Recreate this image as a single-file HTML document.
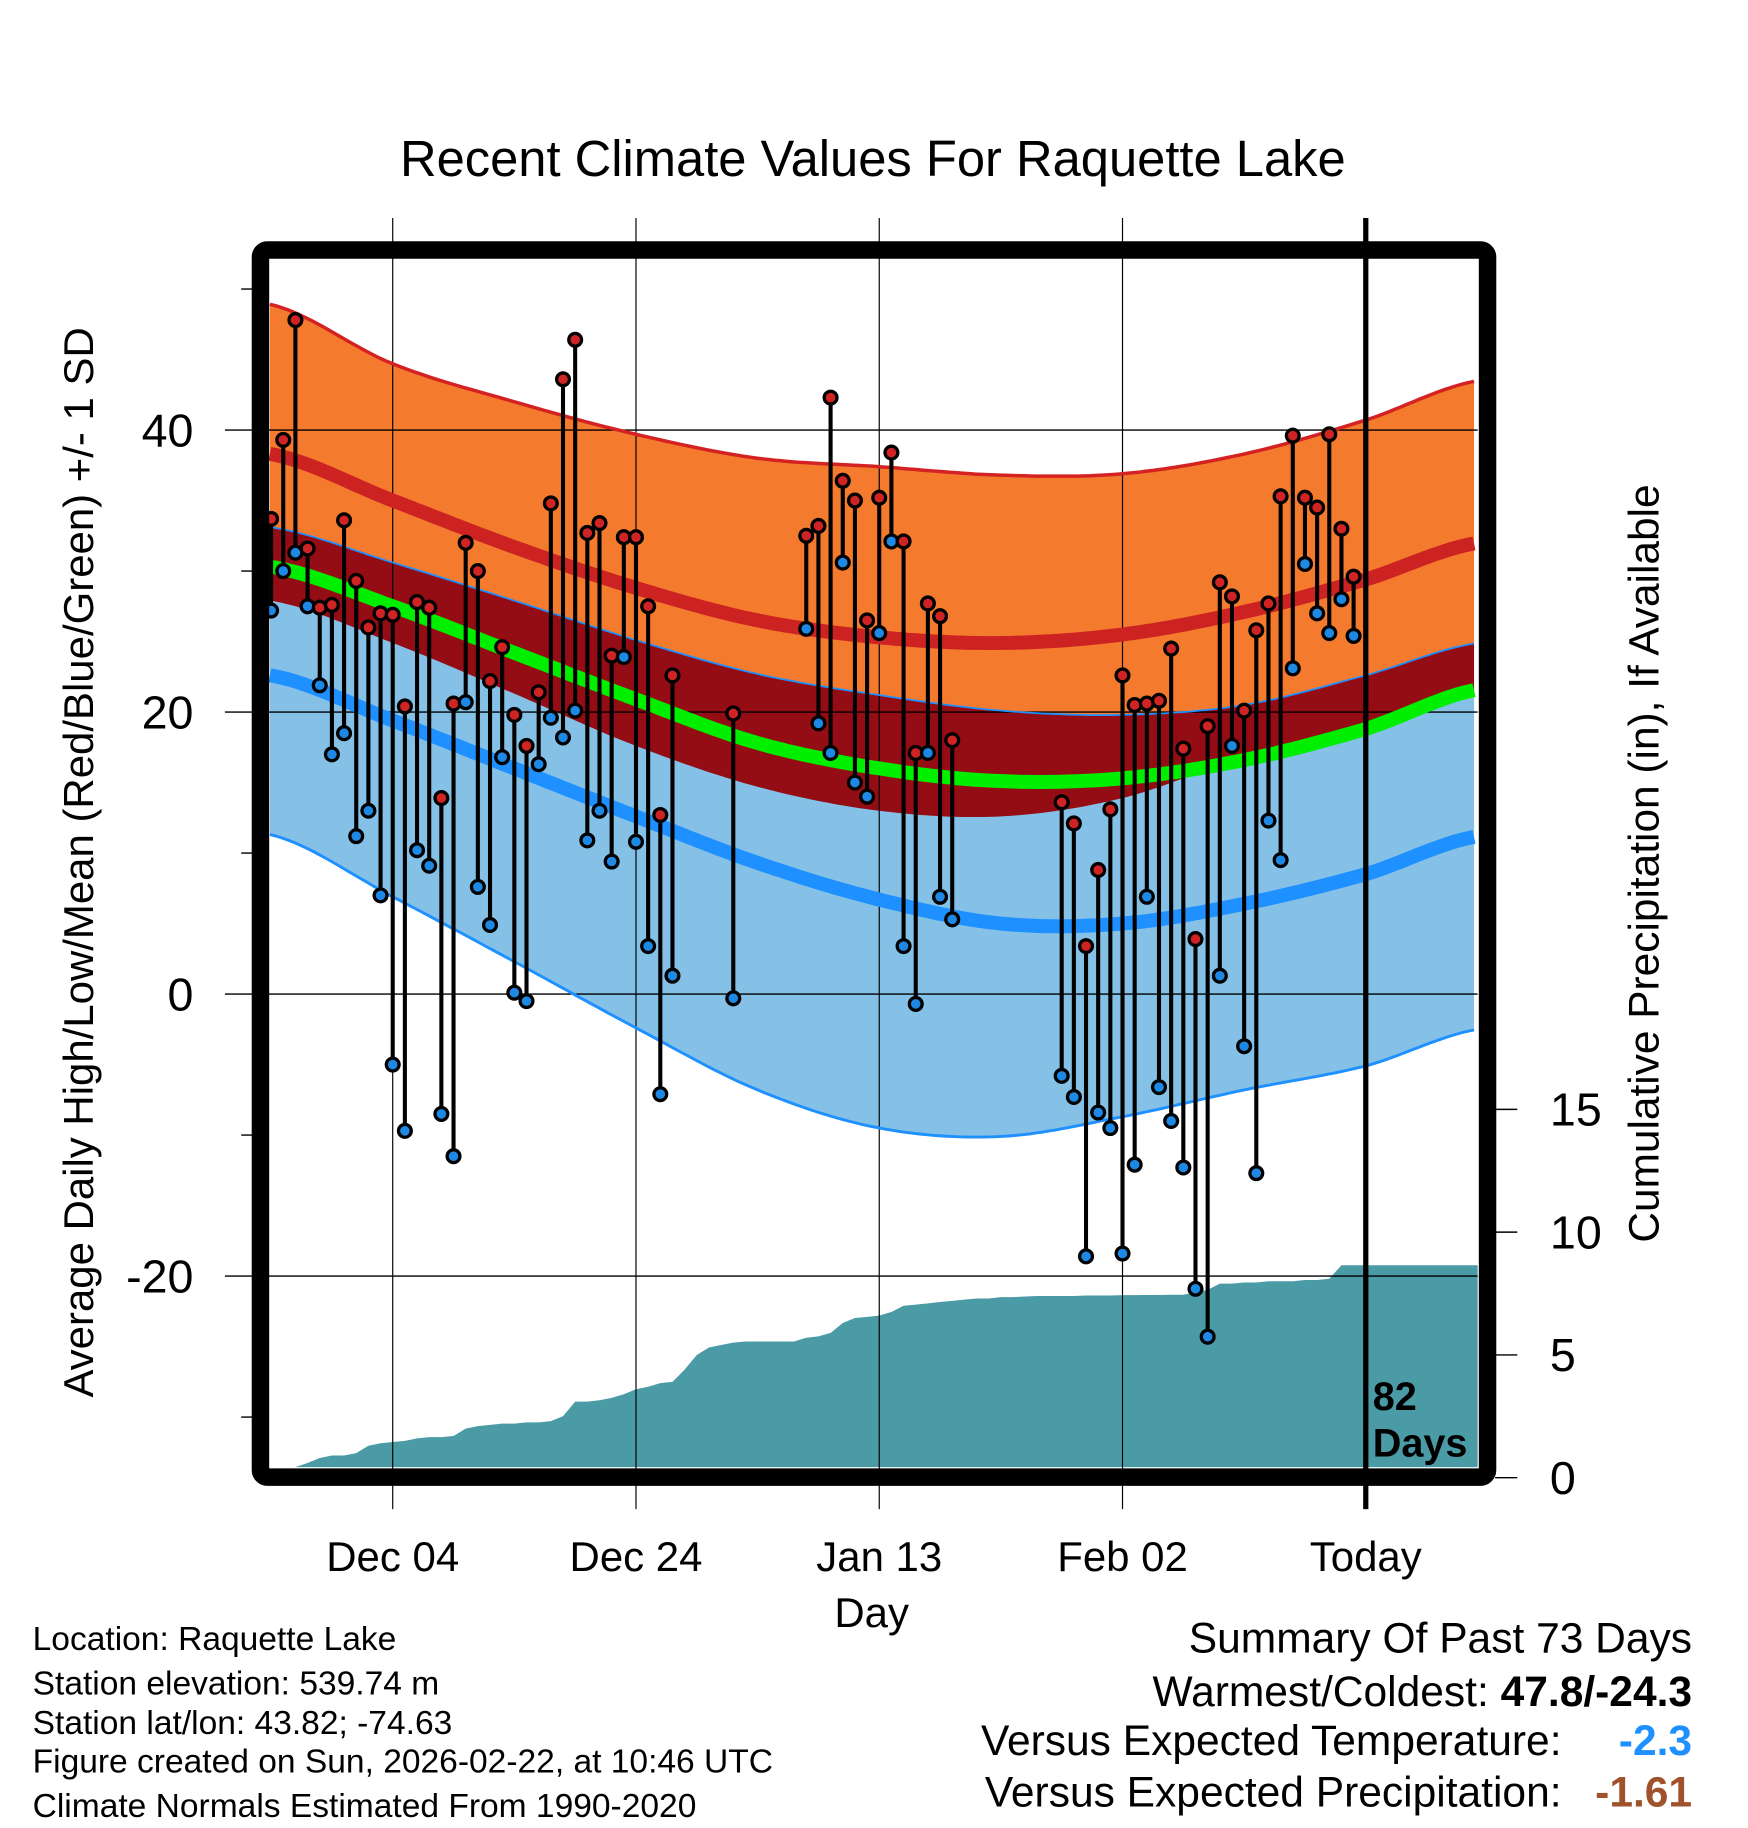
<!DOCTYPE html>
<html><head><meta charset="utf-8"><style>
html,body{margin:0;padding:0;background:#fff;}
svg{display:block;font-family:"Liberation Sans",sans-serif;}
</style></head><body>
<svg id="chart" width="1748" height="1828" viewBox="0 0 1500 1568.6" xmlns="http://www.w3.org/2000/svg">
<g id="bands"></g>
<g id="precip"></g>
<g id="grid"></g>
<g id="lines"></g>
<g id="marks"></g>
<rect x="223.5" y="214.5" width="1053" height="1053" rx="6" fill="none" stroke="#000" stroke-width="15"/>
<line x1="1172" y1="187" x2="1172" y2="1295" stroke="#000" stroke-width="4.5"/>
<text x="1178" y="1210" font-size="34" font-weight="bold">82</text>
<text x="1178" y="1250" font-size="34" font-weight="bold">Days</text>
<g id="axes"></g>
<text x="749" y="151" font-size="43.5" text-anchor="middle">Recent Climate Values For Raquette Lake</text>
<text transform="translate(80,740) rotate(-90)" font-size="36" text-anchor="middle">Average Daily High/Low/Mean (Red/Blue/Green) +/- 1 SD</text>
<text transform="translate(1423,741) rotate(-90)" font-size="36.4" text-anchor="middle">Cumulative Precipitation (in), If Available</text>
<text x="748" y="1396" font-size="36" text-anchor="middle">Day</text>
<g font-size="28.8">
<text x="28" y="1416">Location: Raquette Lake</text>
<text x="28" y="1454">Station elevation: 539.74 m</text>
<text x="28" y="1488">Station lat/lon: 43.82; -74.63</text>
<text x="28" y="1521">Figure created on Sun, 2026-02-22, at 10:46 UTC</text>
<text x="28" y="1559">Climate Normals Estimated From 1990-2020</text>
</g>
<g font-size="36.5">
<text x="1452" y="1418" text-anchor="end">Summary Of Past 73 Days</text>
<text x="1452" y="1464" text-anchor="end">Warmest/Coldest: <tspan font-weight="bold">47.8/-24.3</tspan></text>
<text x="1340" y="1506" text-anchor="end">Versus Expected Temperature:</text>
<text x="1452" y="1506" text-anchor="end" font-weight="bold" fill="#1e90ff">-2.3</text>
<text x="1340" y="1550" text-anchor="end">Versus Expected Precipitation:</text>
<text x="1452" y="1550" text-anchor="end" font-weight="bold" fill="#a0522d">-1.61</text>
</g>
</svg>
<script>
// normals sampled at these day offsets (day 0 = Dec 04)
const normDays=[-10,0,10,20,30,40,50,60,70,80,89.2];
const recHigh=[48.9,44.7,42,39.7,38,37.4,36.8,36.9,38.3,40.7,43.5];
const normHigh=[38.3,35,31.7,28.8,26.5,25.3,24.9,25.5,27.1,29.4,32];
const upperSD=[33.1,30.6,27.9,25.1,22.7,21.2,20.1,19.8,20.5,22.6,24.9];
const normMean=[30.3,27.5,24.2,20.9,17.8,16,15.1,15.3,16.6,18.8,21.6];
const lowerDark=[27.9,24.9,21.3,17.6,14.7,13,12.6,13.9,16.8,18.8,21.3];
const normLow=[22.6,19.4,16,12.6,9.3,6.7,5,5,6.4,8.5,11.2];
const recLow=[11.3,6.9,2.3,-2.4,-6.8,-9.5,-10.1,-8.7,-6.8,-5.1,-2.5];
// daily obs, first day = Nov 24 (day -10)
const highs=[33.7,39.3,47.8,31.6,27.4,27.6,33.6,29.3,26,27,26.9,20.4,27.8,27.4,13.9,20.6,32,30,22.2,24.6,19.8,17.6,21.4,34.8,43.6,46.4,32.7,33.4,24,32.4,32.4,27.5,12.7,22.6,null,null,null,null,19.9,null,null,null,null,null,32.5,33.2,42.3,36.4,35,26.5,35.2,38.4,32.1,17.1,27.7,26.8,18,null,null,null,null,null,null,null,null,13.6,12.1,3.4,8.8,13.1,22.6,20.5,20.6,20.8,24.5,17.4,3.9,19,29.2,28.2,20.1,25.8,27.7,35.3,39.6,35.2,34.5,39.7,33,29.6];
const lows=[27.2,30,31.3,27.5,21.9,17,18.5,11.2,13,7,-5,-9.7,10.2,9.1,-8.5,-11.5,20.7,7.6,4.9,16.8,0.1,-0.5,16.3,19.6,18.2,20.1,10.9,13,9.4,23.9,10.8,3.4,-7.1,1.3,null,null,null,null,-0.3,null,null,null,null,null,25.9,19.2,17.1,30.6,15,14,25.6,32.1,3.4,-0.7,17.1,6.9,5.3,null,null,null,null,null,null,null,null,-5.8,-7.3,-18.6,-8.4,-9.5,-18.4,-12.1,6.9,-6.6,-9,-12.3,-20.9,-24.3,1.3,17.6,-3.7,-12.7,12.3,9.5,23.1,30.5,27,25.6,28,25.4];
const precip=[0.1,0.2,0.4,0.6,0.8,0.9,0.9,1.0,1.3,1.4,1.45,1.5,1.6,1.65,1.65,1.7,2.0,2.1,2.15,2.2,2.2,2.25,2.25,2.3,2.5,3.1,3.1,3.15,3.25,3.4,3.6,3.7,3.85,3.9,4.4,5.0,5.3,5.4,5.5,5.55,5.55,5.55,5.55,5.55,5.7,5.75,5.9,6.3,6.5,6.55,6.6,6.75,7.0,7.05,7.1,7.15,7.2,7.25,7.3,7.3,7.35,7.35,7.38,7.4,7.4,7.4,7.4,7.42,7.42,7.42,7.43,7.43,7.44,7.44,7.45,7.45,7.55,7.65,7.9,7.9,7.95,7.95,8.0,8.0,8.0,8.05,8.05,8.1,8.65,8.65];
const tempTicks=[40,20,0,-20];
const precipTicks=[0,5,10,15];
const dateTicks=[0,20,40,60,80];
const dateLabels=["Dec 04","Dec 24","Jan 13","Feb 02","Today"];

const NS="http://www.w3.org/2000/svg";
const X=d=>337+d*10.4375;
const Y=t=>853-t*12.1;
const YP=p=>1268-p*21.07;
const L0=231,R0=1268,T0=222,B0=1259;
function mk(parent,tag,attrs){const e=document.createElementNS(NS,tag);for(const k in attrs)e.setAttribute(k,attrs[k]);parent.appendChild(e);return e;}
function interp(arr,d){for(let i=0;i<normDays.length-1;i++){if(d<=normDays[i+1]){const a=normDays[i],b=normDays[i+1];const t=(d-a)/(b-a);
 const p0=arr[Math.max(i-1,0)],p1=arr[i],p2=arr[i+1],p3=arr[Math.min(i+2,arr.length-1)];
 const t2=t*t,t3=t2*t;return 0.5*((2*p1)+(-p0+p2)*t+(2*p0-5*p1+4*p2-p3)*t2+(-p0+3*p1-3*p2+p3)*t3);}}return arr[arr.length-1];}
function pts(arr){const o=[];for(let d=-10.1;d<=89.3;d+=0.5)o.push([Math.max(L0,Math.min(R0,X(d))),Y(interp(arr,d))]);return o;}
function line(p){return p.map((q,i)=>(i?'L':'M')+q[0].toFixed(1)+','+q[1].toFixed(1)).join('');}
function band(a,b){const pa=pts(a),pb=pts(b).reverse();return line(pa)+line(pb).replace('M','L')+'Z';}
const bands=document.getElementById('bands');
let e;
e=mk(bands,'path',{d:band(upperSD,recLow),fill:'#85c1e6'});


e=mk(bands,'path',{d:band(upperSD,lowerDark),fill:'#940c14'});


e=mk(bands,'path',{d:band(recHigh,upperSD),fill:'#f47a2e'});


// precip
const pg=document.getElementById('precip');
let pd='M'+L0+','+B0;
precip.forEach((p,i)=>{const x=X(i-10);pd+='L'+Math.max(L0,x).toFixed(1)+','+Math.min(B0,YP(p)).toFixed(1);});
pd+='L'+R0+','+Math.min(B0,YP(precip[precip.length-1])).toFixed(1)+'L'+R0+','+B0+'Z';
e=mk(pg,'path',{d:pd,fill:'#4a9ba5'});


// grid
const gg=document.getElementById('grid');
dateTicks.forEach(d=>{e=mk(gg,'line',{x1:X(d),x2:X(d),y1:187,y2:1295,stroke:'#000','stroke-width':1});

});
tempTicks.forEach(t=>{e=mk(gg,'line',{x1:193,x2:R0,y1:Y(t),y2:Y(t),stroke:'#000','stroke-width':1.2});

});
// normal lines
const lg=document.getElementById('lines');
[[recHigh,'#d42222',3,'record-high-line'],[normHigh,'#cd2222',12,'normal-high-line'],[upperSD,'#1e90ff',1.5,'upper-sd-line'],[normMean,'#00ee00',12,'normal-mean-line'],[normLow,'#1e90ff',12,'normal-low-line'],[recLow,'#1e90ff',2.5,'record-low-line']].forEach(s=>{
 e=mk(lg,'path',{d:line(pts(s[0])),fill:'none',stroke:s[1],'stroke-width':s[2]});
 
 
});
// marks
const mg=document.getElementById('marks');
highs.forEach((h,i)=>{const l=lows[i];if(h==null||l==null)return;const x=X(i-10);
 e=mk(mg,'line',{x1:x,x2:x,y1:Y(h),y2:Y(l),stroke:'#000','stroke-width':3.5});
 
 
 e=mk(mg,'circle',{cx:x,cy:Y(l),r:5.5,fill:'#1e88e5',stroke:'#000','stroke-width':2.8});
 
 
 e=mk(mg,'circle',{cx:x,cy:Y(h),r:5.5,fill:'#d02424',stroke:'#000','stroke-width':2.8});
 
 
});
// axes
const ag=document.getElementById('axes');
tempTicks.forEach(t=>{e=mk(ag,'text',{x:166,y:Y(t)+14,'font-size':40,'text-anchor':'end'});e.textContent=String(t);

});
[50,30,10,-10,-30].forEach(t=>{e=mk(ag,'line',{x1:207,x2:217,y1:Y(t),y2:Y(t),stroke:'#000','stroke-width':1.2});

});
precipTicks.forEach(p=>{e=mk(ag,'line',{x1:1283,x2:1302,y1:YP(p),y2:YP(p),stroke:'#000','stroke-width':1.2});


e=mk(ag,'text',{x:1330,y:YP(p)+14,'font-size':40});e.textContent=String(p);

});
dateTicks.forEach((d,i)=>{e=mk(ag,'text',{x:X(d),y:1348,'font-size':36,'text-anchor':'middle'});e.textContent=dateLabels[i];

});
</script>
</body></html>
